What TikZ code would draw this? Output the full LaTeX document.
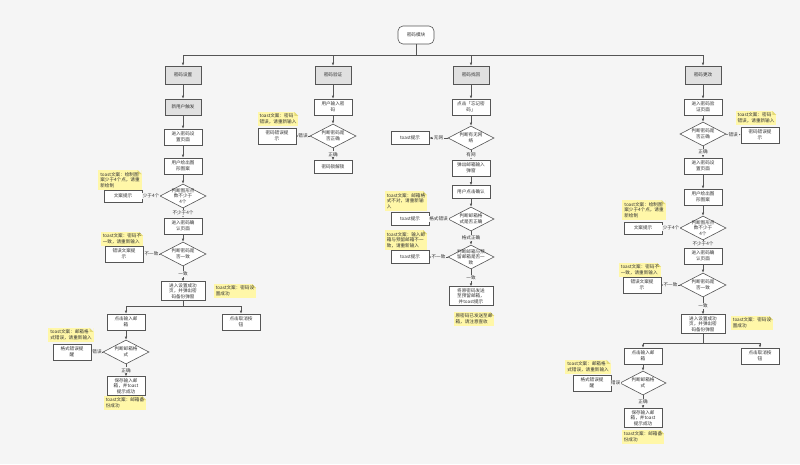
\documentclass[tikz,border=0pt]{standalone}
\usepackage{fontspec}
\newfontfamily\cjk{Noto Sans CJK SC}
\usetikzlibrary{shapes.geometric,arrows.meta}

\definecolor{paper}{HTML}{F5F5F5}
\definecolor{frame}{HTML}{555555}
\definecolor{ink}{HTML}{333333}
\definecolor{sticky}{HTML}{FFF7A8}
\definecolor{fold}{HTML}{E3D977}
\definecolor{topfill}{HTML}{E0E0E0}

\begin{document}
\begin{tikzpicture}[x=1pt, y=-1pt, font=\cjk\fontsize{4.6}{5.7}\selectfont, every node/.style={text=ink},
  box/.style={draw=frame, fill=white, line width=.6pt, minimum width=38, minimum height=16, inner sep=1.5pt, align=center},
  topbox/.style={box, fill=topfill, minimum width=36, minimum height=18},
  decision/.style={diamond, draw=frame, fill=white, line width=.6pt, minimum width=46, minimum height=24, inner sep=0pt,
    label={[align=center, inner sep=0pt]center:#1}},
  note/.style={fill=sticky, inner sep=2pt, align=left,
    path picture={
      \fill[paper] ([xshift=-4pt]path picture bounding box.north east) -- (path picture bounding box.north east) -- ([yshift=-4pt]path picture bounding box.north east) -- cycle;
      \fill[fold] ([xshift=-4pt]path picture bounding box.north east) -- ([xshift=-4pt,yshift=-4pt]path picture bounding box.north east) -- ([yshift=-4pt]path picture bounding box.north east) -- cycle;}},
  lbl/.style={fill=paper, inner sep=.8pt},
  link/.style={draw=frame, line width=.6pt},
  flow/.style={link, -{Latex[length=3pt,width=2.6pt]}}]
  \useasboundingbox (0,0) rectangle (800,464);
  \fill[paper] (0,0) rectangle (800,464);

  % Module root and the four branches hanging from one bus.
  \node[box, rounded corners=5pt, minimum width=36, minimum height=18] (root) at (416,35) {密码模块};
  \coordinate (rootBus) at (416,55);
  \node[topbox] (set) at (183,75) {密码设置};
  \node[topbox] (check) at (333,75) {密码验证};
  \node[topbox] (find) at (471,75) {密码找回};
  \node[topbox] (change) at (703,75) {密码更改};
  \draw[link] (root) -- (rootBus);
  \foreach \b in {set,check,find,change}
    \draw[flow] (rootBus) -| (\b);

  % Setting a new password.
  \node[topbox, minimum height=16] (setNew) at (183,107) {新用户触发};
  \node[box] (setPage) at (183,137) {进入密码设\\置页面};
  \node[box] (setDraw) at (183,166) {用户绘出图\\形图案};
  \node[decision={判断图形点\\数不少于\\4个}] (setCount) at (183,196) {};
  \node[box, minimum height=12] (setTip) at (123,196) {文案提示};
  \node[box] (setConfirm) at (183,226) {进入密码确\\认页面};
  \node[decision={判断密码是\\否一致}] (setSame) at (183,254) {};
  \node[box] (setWrong) at (124,254) {错误文案提\\示};
  \node[box, minimum width=44] (setDone) at (183,291) {进入设置成功\\页，并弹出密\\码备份弹窗};
  \coordinate (setFork) at (183,306);
  \node[box] (setMail) at (126,322) {点击输入邮\\箱};
  \node[box] (setCancel) at (241,322) {点击取消按\\钮};
  \node[decision={判断邮箱格\\式}] (setFormat) at (126,352) {};
  \node[box] (setBad) at (72,352) {格式错误提\\醒};
  \node[box] (setSave) at (126,386) {保存输入邮\\箱，并toast\\提示成功};

  \node[note] (setNote1) at (120,180) {toast文案：绘制图\\案少于4个点，请重\\新绘制};
  \node[note] (setNote2) at (122,239) {toast文案：密码不\\一致，请重新输入};
  \node[note] (setNote3) at (235,291) {toast文案：密码设\\置成功};
  \node[note] (setNote4) at (71,335) {toast文案：邮箱格\\式错误，请重新输入};
  \node[note] (setNote5) at (125,403) {toast文案：邮箱备\\份成功};

  \draw[flow] (set) -- (setNew);
  \draw[flow] (setNew) -- (setPage);
  \draw[flow] (setPage) -- (setDraw);
  \draw[flow] (setDraw) -- (setCount);
  \draw[flow] (setCount) -- node[lbl] {少于4个} (setTip);
  \draw[flow] (setCount) -- node[lbl] {不少于4个} (setConfirm);
  \draw[flow] (setConfirm) -- (setSame);
  \draw[flow] (setSame) -- node[lbl] {不一致} (setWrong);
  \draw[flow] (setSame) -- node[lbl] {一致} (setDone);
  \draw[link] (setDone) -- (setFork);
  \draw[flow] (setFork) -| (setMail);
  \draw[flow] (setFork) -| (setCancel);
  \draw[flow] (setMail) -- (setFormat);
  \draw[flow] (setFormat) -- node[lbl] {错误} (setBad);
  \draw[flow] (setFormat) -- node[lbl] {正确} (setSave);

  % Unlocking with the password.
  \node[box] (checkInput) at (333,107) {用户输入密\\码};
  \node[decision={判断密码是\\否正确}] (checkRight) at (333,136) {};
  \node[box] (checkWrong) at (277,136) {密码错误提\\示};
  \node[box, minimum height=13] (checkOpen) at (333,167) {密码锁解锁};
  \node[note] (checkNote) at (278,119) {toast文案：密码\\错误，请重新输入};

  \draw[flow] (check) -- (checkInput);
  \draw[flow] (checkInput) -- (checkRight);
  \draw[flow] (checkRight) -- node[lbl] {错误} (checkWrong);
  \draw[flow] (checkRight) -- node[lbl] {正确} (checkOpen);

  % Recovering a forgotten password by mail.
  \node[box] (findForget) at (471,107) {点击「忘记密\\码」};
  \node[decision={判断有无网\\络}] (findNet) at (471,138) {};
  \node[box, minimum height=13] (findNoNet) at (410,138) {toast提示};
  \node[box] (findPopup) at (471,168) {弹出邮箱输入\\弹窗};
  \node[box, minimum height=13] (findOk) at (471,192) {用户点击确认};
  \node[decision={判断邮箱格\\式是否正确}] (findFormat) at (471,219) {};
  \node[box, minimum height=13] (findBad) at (410,219) {toast提示};
  \node[decision={判断邮箱与预\\留邮箱是否一\\致}] (findMatch) at (471,257) {};
  \node[box, minimum height=13] (findDiff) at (410,257) {toast提示};
  \node[box, minimum width=44] (findSend) at (471,296) {将原密码发送\\至预留邮箱，\\并toast提示};

  \node[note] (findNote1) at (406,201) {toast文案：邮箱格\\式不对，请重新输\\入};
  \node[note] (findNote2) at (406,240) {toast文案：输入邮\\箱与预留邮箱不一\\致，请重新输入};
  \node[note] (findNote3) at (474,319) {原密码已发送至邮\\箱，请注意查收};

  \draw[flow] (find) -- (findForget);
  \draw[flow] (findForget) -- (findNet);
  \draw[flow] (findNet) -- node[lbl] {无网} (findNoNet);
  \draw[flow] (findNet) -- node[lbl] {有网} (findPopup);
  \draw[flow] (findPopup) -- (findOk);
  \draw[flow] (findOk) -- (findFormat);
  \draw[flow] (findFormat) -- node[lbl] {格式错误} (findBad);
  \draw[flow] (findFormat) -- node[lbl] {格式正确} (findMatch);
  \draw[flow] (findMatch) -- node[lbl] {不一致} (findDiff);
  \draw[flow] (findMatch) -- node[lbl] {一致} (findSend);

  % Changing the password: verify first, then set again.
  \node[box] (changeCheck) at (703,107) {进入密码验\\证页面};
  \node[decision={判断密码是\\否正确}] (changeRight) at (703,134) {};
  \node[box] (changeWrong) at (760,135) {密码错误提\\示};
  \node[box] (changePage) at (703,166) {进入密码设\\置页面};
  \node[box] (changeDraw) at (703,197) {用户绘出图\\形图案};
  \node[decision={判断图形点\\数不少于\\4个}] (changeCount) at (703,228) {};
  \node[box, minimum height=12] (changeTip) at (643,228) {文案提示};
  \node[box] (changeConfirm) at (703,256) {进入密码确\\认页面};
  \node[decision={判断密码是\\否一致}] (changeSame) at (703,285) {};
  \node[box] (changeMis) at (642,285) {错误文案提\\示};
  \node[box, minimum width=44] (changeDone) at (703,324) {进入设置成功\\页，并弹出密\\码备份弹窗};
  \coordinate (changeFork) at (703,343);
  \node[box] (changeMail) at (643,356) {点击输入邮\\箱};
  \node[box] (changeCancel) at (760,356) {点击取消按\\钮};
  \node[decision={判断邮箱格\\式}] (changeFormat) at (643,383) {};
  \node[box] (changeBad) at (592,383) {格式错误提\\醒};
  \node[box] (changeSave) at (643,418) {保存输入邮\\箱，并toast\\提示成功};

  \node[note] (changeNote1) at (756,118) {toast文案：密码\\错误，请重新输入};
  \node[note] (changeNote2) at (644,210) {toast文案：绘制图\\案少于4个点，请重\\新绘制};
  \node[note] (changeNote3) at (640,270) {toast文案：密码不\\一致，请重新输入};
  \node[note] (changeNote4) at (752,323) {toast文案：密码设\\置成功};
  \node[note] (changeNote5) at (588,367) {toast文案：邮箱格\\式错误，请重新输入};
  \node[note] (changeNote6) at (643,437) {toast文案：邮箱备\\份成功};

  \draw[flow] (change) -- (changeCheck);
  \draw[flow] (changeCheck) -- (changeRight);
  \draw[flow] (changeRight) -- node[lbl] {错误} (changeWrong);
  \draw[flow] (changeRight) -- node[lbl] {正确} (changePage);
  \draw[flow] (changePage) -- (changeDraw);
  \draw[flow] (changeDraw) -- (changeCount);
  \draw[flow] (changeCount) -- node[lbl] {少于4个} (changeTip);
  \draw[flow] (changeCount) -- node[lbl] {不少于4个} (changeConfirm);
  \draw[flow] (changeConfirm) -- (changeSame);
  \draw[flow] (changeSame) -- node[lbl] {不一致} (changeMis);
  \draw[flow] (changeSame) -- node[lbl] {一致} (changeDone);
  \draw[link] (changeDone) -- (changeFork);
  \draw[flow] (changeFork) -| (changeMail);
  \draw[flow] (changeFork) -| (changeCancel);
  \draw[flow] (changeMail) -- (changeFormat);
  \draw[flow] (changeFormat) -- node[lbl] {错误} (changeBad);
  \draw[flow] (changeFormat) -- node[lbl] {正确} (changeSave);
\end{tikzpicture}
\end{document}
